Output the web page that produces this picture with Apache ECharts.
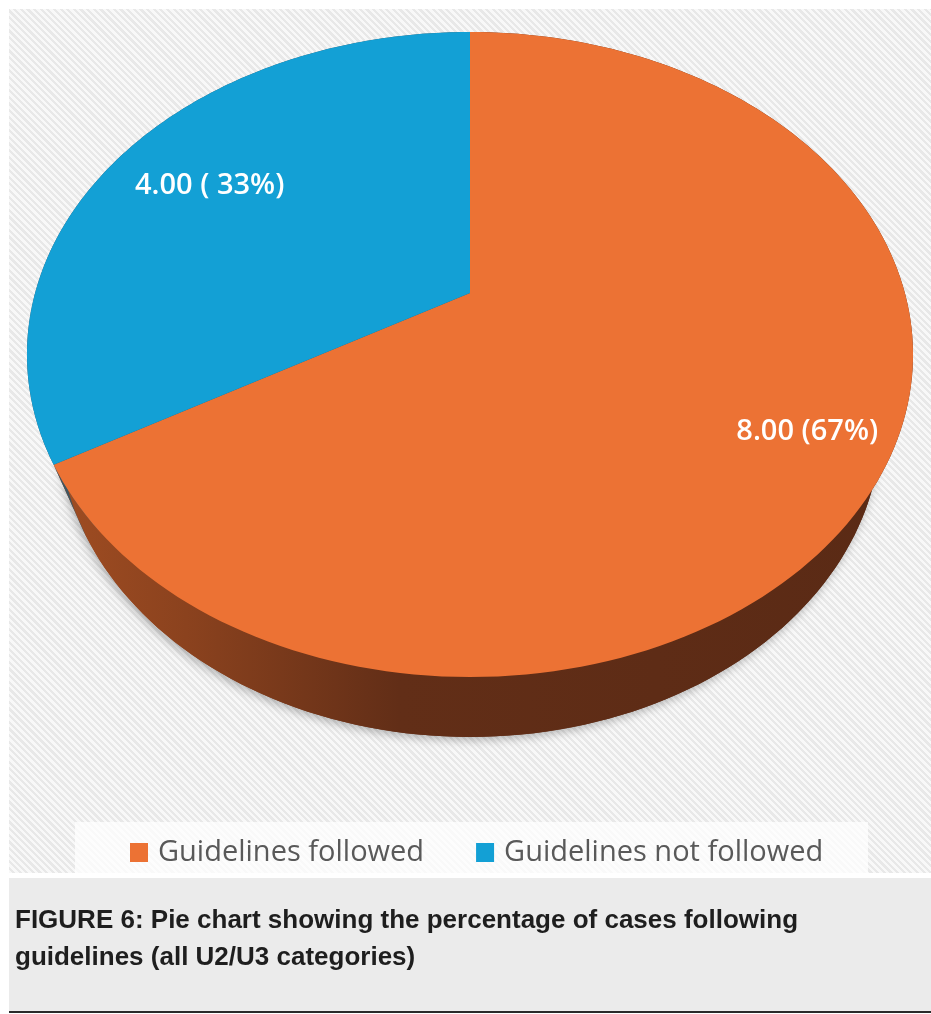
<!DOCTYPE html>
<html>
<head>
<meta charset="utf-8">
<script src="https://cdn.jsdelivr.net/npm/echarts@6/dist/echarts.min.js"></script>
<style>
  html, body { margin: 0; padding: 0; background: #ffffff; }
  #stripes {
    position: absolute; left: 9px; top: 9px; width: 922px; height: 864px;
    background: repeating-linear-gradient(45deg, #f8f8f8 0px, #f8f8f8 2.4px, #e8e8e8 2.4px, #e8e8e8 4.7px);
  }
  #chart { position: absolute; left: 0; top: 0; width: 931px; height: 1014px; }
</style>
</head>
<body>
<div id="stripes"></div>
<div id="chart"></div>
<script>
// ---- data ----
const categories = ['Guidelines followed', 'Guidelines not followed'];
const values = [8, 4];
const sliceLabels = ['8.00 (67%)', '4.00 ( 33%)'];
const captionLines = [
  'FIGURE 6: Pie chart showing the percentage of cases following',
  'guidelines (all U2/U3 categories)'
];

// ---- style / geometry ----
const topColors = ['#ec7234', '#13a0d5'];
const wallFills = [
  { type: 'linear', x: 27, y: 0, x2: 913, y2: 0, global: true,
    colorStops: [
      { offset: 0, color: '#a44f23' },
      { offset: 0.18, color: '#8b421e' },
      { offset: 0.42, color: '#622e17' },
      { offset: 1, color: '#5a2a15' }
    ] },
  '#3f5560'
];
const labelRadius = [0.825, 0.74];
// perspective of the top rim and of the (farther, lower) bottom rim
const CX = 470, CY = 293, A = 434.9, B = 310.8, K = 0.1907;
const M_BOT = 0.075, E_BOT = 81.8;

function projTop(r, phi) {
  const u = r * Math.sin(phi), v = -r * Math.cos(phi);
  const w = 1 - K * v;
  return [CX + A * u / w, CY + B * v / w];
}
function projBot(r, phi) {
  const u = r * Math.sin(phi), v = -r * Math.cos(phi);
  const w = 1 - K * v + M_BOT;
  return [CX + A * u / w, CY + (B * v + E_BOT) / w];
}

const total = values.reduce((a, b) => a + b, 0);

function makeRender(idx) {
  return function (params, api) {
    const val = api.value(0);
    let before = 0;
    for (let j = 0; j < idx; j++) before += values[j];
    const a0 = before / total * Math.PI * 2;
    const a1 = (before + val) / total * Math.PI * 2;
    const N = 160;
    const topRim = [], botRim = [];
    for (let s = 0; s <= N; s++) {
      const phi = a0 + (a1 - a0) * s / N;
      topRim.push(projTop(1, phi));
      botRim.push(projBot(1, phi));
    }
    const stripPts = topRim.concat(botRim.slice().reverse());
    const botPts = [projBot(0, 0)].concat(botRim);
    const topPts = [projTop(0, 0)].concat(topRim);
    const mid = (a0 + a1) / 2;
    const lp = projTop(labelRadius[idx], mid);
    const wallStyle = { fill: wallFills[idx], shadowBlur: 10, shadowColor: 'rgba(0,0,0,0.28)', shadowOffsetX: -2, shadowOffsetY: 3 };
    return {
      type: 'group',
      children: [
        { type: 'polygon', z2: 1, shape: { points: botPts }, style: wallStyle },
        { type: 'polygon', z2: 2, shape: { points: stripPts }, style: { fill: wallFills[idx] } },
        { type: 'polygon', z2: 10, shape: { points: topPts }, style: { fill: api.visual('color') } },
        { type: 'text', z2: 20, x: lp[0], y: lp[1],
          style: { text: sliceLabels[idx], fill: '#ffffff', font: '600 29px "Open Sans"', align: 'center', verticalAlign: 'middle' } }
      ]
    };
  };
}

const chart = echarts.init(document.getElementById('chart'), null, { renderer: 'canvas' });
chart.setOption({
  backgroundColor: 'transparent',
  animation: false,
  title: {
    text: captionLines.join('\n'),
    left: 10, top: 897,
    textStyle: { fontFamily: 'Liberation Sans', fontWeight: 'bold', fontSize: 26, lineHeight: 37, color: '#1e1e1e' }
  },
  legend: {
    data: categories,
    left: 125, top: 833,
    icon: 'rect', itemWidth: 18, itemHeight: 19, itemGap: 52,
    selectedMode: false,
    textStyle: { fontFamily: 'Open Sans', fontSize: 29, color: '#595959', padding: [0, 0, 0, 5] }
  },
  graphic: [
    { type: 'rect', z: -1, shape: { x: 75, y: 822, width: 793, height: 51 }, style: { fill: 'rgba(255,255,255,0.72)' } },
    { type: 'rect', z: -1, shape: { x: 9, y: 878, width: 922, height: 133 }, style: { fill: '#ebebeb' } },
    { type: 'rect', z: -1, shape: { x: 9, y: 1011, width: 922, height: 2 }, style: { fill: '#2a2a2a' } }
  ],
  series: categories.map((c, i) => ({
    type: 'custom',
    name: c,
    coordinateSystem: 'none',
    itemStyle: { color: topColors[i] },
    data: [values[i]],
    renderItem: makeRender(i)
  }))
});
</script>
</body>
</html>
